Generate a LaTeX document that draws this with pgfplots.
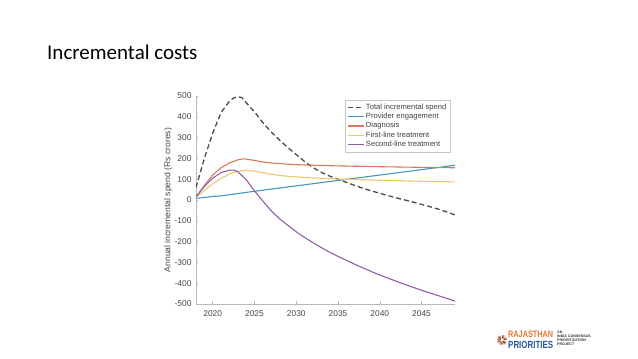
\documentclass[border=0pt]{standalone}
\usepackage{pgfplots}
\pgfplotsset{compat=1.18}
\usepackage{graphicx}
\usepackage{fontspec}
\setmainfont{Liberation Sans}
\newfontfamily\titlefont{Carlito}
\definecolor{mblue}{RGB}{70,150,195}
\definecolor{morange}{RGB}{215,120,90}
\definecolor{myellow}{RGB}{235,200,105}
\definecolor{mpurple}{RGB}{145,95,170}
\definecolor{mdash}{RGB}{75,75,75}
\definecolor{logoorange}{RGB}{232,120,45}
\definecolor{logoblue}{RGB}{40,85,155}
\begin{document}
\begin{tikzpicture}[x=1pt,y=1pt]
\path[fill=white,use as bounding box] (0,0) rectangle (638,359);
% title
\node[anchor=base west,inner sep=0pt,font=\titlefont\fontsize{21}{24}\selectfont] at (47,299) {Incremental costs};
\begin{axis}[
  at={(196pt,55pt)}, anchor=south west,
  scale only axis, width=259pt, height=208pt,
  xmin=2018, xmax=2049, ymin=-500, ymax=500,
  axis x line*=bottom, axis y line*=left,
  axis line style={draw=gray!55, line width=0.5pt},
  xtick={2020,2025,2030,2035,2040,2045},
  ytick={-500,-400,-300,-200,-100,0,100,200,300,400,500},
  tick align=inside, major tick length=2.5pt,
  tick style={draw=gray!55, line width=0.5pt},
  /pgf/number format/assume math mode=true,
  /pgf/number format/1000 sep={},
  ticklabel style={font=\fontsize{8.4}{10}\selectfont, text=black!72},
  x tick label style={yshift=-3pt},
  y tick label style={xshift=-1pt},
  ylabel={Annual incremental spend (Rs crores)},
  ylabel style={at={(axis description cs:-0.108,0.5)}, anchor=center, font=\fontsize{8.6}{10}\selectfont, text=black!72},
  legend cell align=left,
  legend style={at={(axis description cs:1,1)}, anchor=north east, xshift=-5pt, yshift=-4pt,
    draw=gray!45, line width=0.5pt, fill=white, font=\fontsize{7.6}{9}\selectfont, text=black!75,
    inner sep=2.5pt, row sep=0pt,
    nodes={inner sep=1pt, text height=5.6pt, text depth=1.7pt}},
  legend image code/.code={\draw[#1] (0pt,0pt) -- (16pt,0pt);},
]
\addplot[draw=mdash, line width=1.3pt, dash pattern=on 5pt off 3pt] coordinates {
(2018,60) (2019,200) (2020,322) (2021,420) (2022,475) (2022.5,490) (2023,497) (2023.5,492) (2024,468) (2025,424) (2026,372) (2027,327) (2028,288) (2029,252) (2030,218) (2031,185) (2032,156) (2033,133) (2034,115) (2035,100) (2036,85) (2037,70) (2038,56) (2039,44) (2040,32) (2041,21) (2042,10) (2043,0) (2044,-10) (2045,-21) (2046,-32) (2047,-44) (2048,-57) (2049,-72)};
\addlegendentry{Total incremental spend}
\addplot[draw=mblue, line width=1.1pt] coordinates {
(2018,8) (2019,12) (2020,17) (2021,20) (2025,42) (2030,68) (2035,94) (2040,120) (2045,146) (2049,167)};
\addlegendentry{Provider engagement}
\addplot[draw=morange, line width=1.1pt] coordinates {
(2018,15) (2019,70) (2020,120) (2021,155) (2022,178) (2023,193) (2023.7,198) (2024,197) (2025,190) (2026,183) (2027,178) (2028,175) (2029,172) (2030,170) (2032,167) (2035,164) (2040,160) (2045,157) (2049,155)};
\addlegendentry{Diagnosis}
\addplot[draw=myellow, line width=1.1pt] coordinates {
(2018,12) (2019,45) (2020,78) (2021,104) (2022,125) (2023,138) (2024,142) (2025,139) (2026,131) (2027,124) (2028,118) (2029,114) (2030,111) (2032,106) (2035,101) (2040,95) (2045,90) (2049,87)};
\addlegendentry{First-line treatment}
\addplot[draw=mpurple, line width=1.1pt] coordinates {
(2018,15) (2019,65) (2020,105) (2021,132) (2022,143) (2022.5,144) (2023,136) (2024,98) (2025,44) (2026,-5) (2027,-52) (2028,-90) (2029,-122) (2030,-153) (2031,-180) (2032,-205) (2033,-229) (2034,-251) (2035,-271) (2036,-290) (2037,-309) (2038,-327) (2039,-344) (2040,-361) (2041,-376) (2042,-391) (2043,-406) (2044,-420) (2045,-434) (2046,-447) (2047,-460) (2048,-473) (2049,-486)};
\addlegendentry{Second-line treatment}
\end{axis}
% logo
\foreach \a in {0,30,...,330}{
  \draw[logoorange, line width=1pt] (502,19) ++(\a:1.5) -- ++(\a:3.5);
}
\foreach \a in {15,75,...,315}{
  \draw[logoblue, line width=0.8pt] (502,19) ++(\a:2) -- ++(\a:2.8);
}
\node[anchor=south west, inner sep=0pt, text=logoorange] at (508,20.8) {\resizebox{45pt}{6.5pt}{\bfseries RAJASTHAN}};
\node[anchor=south west, inner sep=0pt, text=logoblue] at (508,9.8) {\resizebox{45pt}{7.2pt}{\bfseries PRIORITIES}};
\node[anchor=north west, inner sep=0pt, align=left, font=\bfseries\fontsize{3.6}{4.2}\selectfont, text=black!80] at (557,28.5) {AN\\INDIA CONSENSUS\\PRIORITIZATION\\PROJECT};
\end{tikzpicture}
\end{document}
